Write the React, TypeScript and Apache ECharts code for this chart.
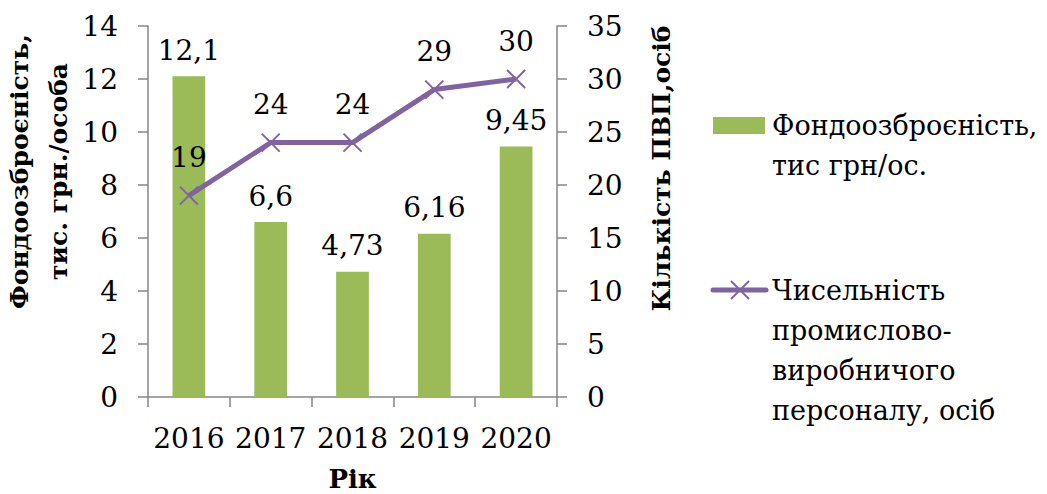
import React, { useEffect, useRef } from "react";
import * as echarts from "echarts";

const years = ["2016", "2017", "2018", "2019", "2020"];
const fundValues = [12.1, 6.6, 4.73, 6.16, 9.45];
const staffValues = [19, 24, 24, 29, 30];
const leftTitle = "Фондоозброєність,\nтис. грн./особа";
const rightTitle = "Кількість ПВП,осіб";
const xTitle = "Рік";
const legendBar = "Фондоозброєність,\nтис грн/ос.";
const legendLine = "Чисельність\nпромислово-\nвиробничого\nперсоналу, осіб";

const FONT = "DejaVu Serif";
const GREEN = "#9BBB59";
const PURPLE = "#8064A2";
const AXIS = "#868686";
const FS = 28;
const LFS = 27;
const TFS = 25;

export default function App() {
  const ref = useRef<HTMLDivElement>(null);
  useEffect(() => {
    if (!ref.current) return;
    const chart = echarts.init(ref.current, null, { renderer: "svg" });
    const fmt = (v: number) => String(v).replace(".", ",");
    chart.setOption({
      animation: false,
      textStyle: { fontFamily: FONT },
      grid: { left: 148, right: 490, top: 26, bottom: 97, containLabel: false, outerBoundsMode: "none" },
      xAxis: {
        type: "category",
        data: years,
        name: xTitle,
        nameLocation: "middle",
        nameGap: 69,
        nameTextStyle: { fontFamily: FONT, fontSize: TFS + 1, fontWeight: "bold", color: "#000" },
        axisLine: { lineStyle: { color: AXIS, width: 1.5 } },
        axisTick: { show: true, length: 10, lineStyle: { color: AXIS, width: 1.5 } },
        axisLabel: { color: "#000", fontFamily: FONT, fontSize: FS, margin: 27, interval: 0 },
      },
      yAxis: [
        {
          type: "value",
          min: 0,
          max: 14,
          interval: 2,
          name: leftTitle,
          nameLocation: "middle",
          nameRotate: 90,
          nameGap: 68,
          nameTextStyle: {
            fontFamily: FONT,
            fontSize: TFS,
            fontWeight: "bold",
            color: "#000",
            lineHeight: 39,
            padding: [0, 0, 0, 80],
          },
          axisLine: { show: true, lineStyle: { color: AXIS, width: 1.5 } },
          axisTick: { show: true, length: 10, lineStyle: { color: AXIS, width: 1.5 } },
          splitLine: { show: false },
          axisLabel: { color: "#000", fontFamily: FONT, fontSize: FS, margin: 30 },
        },
        {
          type: "value",
          min: 0,
          max: 35,
          interval: 5,
          position: "right",
          name: rightTitle,
          nameLocation: "middle",
          nameRotate: 90,
          nameGap: 92,
          nameTextStyle: {
            fontFamily: FONT,
            fontSize: TFS,
            fontWeight: "bold",
            color: "#000",
            padding: [0, 0, 0, 86],
          },
          axisLine: { show: true, lineStyle: { color: AXIS, width: 1.5 } },
          axisTick: { show: true, length: 10, lineStyle: { color: AXIS, width: 1.5 } },
          splitLine: { show: false },
          axisLabel: { color: "#000", fontFamily: FONT, fontSize: FS, margin: 30 },
        },
      ],
      series: [
        {
          type: "bar",
          name: legendBar,
          data: fundValues,
          yAxisIndex: 0,
          barWidth: "40%",
          itemStyle: { color: GREEN },
          label: {
            show: true,
            position: "top",
            distance: 12,
            color: "#000",
            fontFamily: FONT,
            fontSize: FS,
            formatter: (p: any) => fmt(p.value),
          },
          z: 2,
        },
        {
          type: "line",
          name: legendLine,
          data: staffValues,
          yAxisIndex: 1,
          symbol: "path://M0,0L10,10M10,0L0,10",
          symbolSize: 18,
          lineStyle: { color: PURPLE, width: 5 },
          itemStyle: { color: PURPLE, borderColor: PURPLE, borderWidth: 2 },
          label: {
            show: true,
            position: "top",
            distance: 14,
            color: "#000",
            fontFamily: FONT,
            fontSize: FS,
            formatter: (p: any) => fmt(p.value),
          },
          z: 3,
        },
      ],
      graphic: [
        { type: "rect", shape: { x: 713, y: 117, width: 52, height: 17 }, style: { fill: GREEN } },
        {
          type: "text",
          x: 772,
          y: 105,
          style: {
            text: legendBar,
            fontFamily: FONT,
            fontSize: LFS,
            fill: "#000",
            lineHeight: 40,
            verticalAlign: "top",
          },
        },
        {
          type: "line",
          shape: { x1: 713, y1: 290, x2: 766, y2: 290 },
          style: { stroke: PURPLE, lineWidth: 5, lineCap: "round" },
        },
        { type: "line", shape: { x1: 731, y1: 281, x2: 749, y2: 299 }, style: { stroke: PURPLE, lineWidth: 2 } },
        { type: "line", shape: { x1: 749, y1: 281, x2: 731, y2: 299 }, style: { stroke: PURPLE, lineWidth: 2 } },
        {
          type: "text",
          x: 772,
          y: 270,
          style: {
            text: legendLine,
            fontFamily: FONT,
            fontSize: LFS,
            fill: "#000",
            lineHeight: 40,
            verticalAlign: "top",
          },
        },
      ],
    });
    return () => chart.dispose();
  }, []);
  return (
    <div
      ref={ref}
      style={{ position: "fixed", left: 0, top: 0, width: 1047, height: 494, background: "#fff" }}
    />
  );
}
